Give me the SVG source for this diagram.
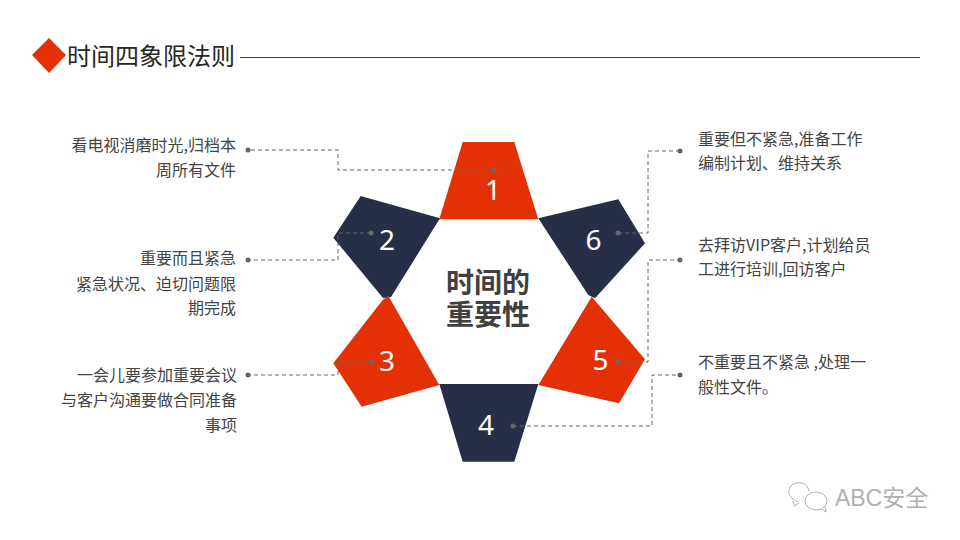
<svg xmlns="http://www.w3.org/2000/svg" width="960" height="540" viewBox="0 0 960 540">
<style>
.t{font-family:"Noto Sans CJK SC","Liberation Sans",sans-serif;font-size:16px;fill:#444}
.e{text-anchor:end}
.n{font-family:"Noto Sans","Liberation Sans",sans-serif;font-size:28px;fill:#fff;text-anchor:middle}
.c{font-family:"Noto Sans CJK SC",sans-serif;font-size:28px;font-weight:700;fill:#404040;text-anchor:middle}
.r{fill:#e33005}
.d{fill:#272e48}
.l{fill:none;stroke:#666;stroke-width:1;stroke-dasharray:4 3}
.p{fill:#666}
</style>
<rect width="960" height="540" fill="#fff"/>
<g id="header">
<polygon class="r" points="49,38 66,55 49,73 32,55"/>
<text x="67" y="65" font-family="'Noto Sans CJK SC',sans-serif" font-size="24" fill="#262626">时间四象限法则</text>
<line x1="240" y1="57.500" x2="920" y2="57.500" stroke="#404040" stroke-width="1"/>
</g>
<g id="node1"><polygon class="r" points="462.700,142 514.300,142 538.300,219.300 439.300,219.300"/><text class="n" x="493" y="200">1</text></g>
<g id="node2"><polygon class="d" points="360.700,196 440,218.300 391,297 383,298 333.300,237.700"/><text class="n" x="387" y="250">2</text></g>
<g id="node3"><polygon class="r" points="388.300,295.700 439.300,385 361.700,406.700 333.300,363.300 382.700,300"/><text class="n" x="387" y="371">3</text></g>
<g id="node4"><polygon class="d" points="439.300,384 538.300,384 514.300,461.700 462.700,461.700"/><text class="n" x="486" y="435">4</text></g>
<g id="node5"><polygon class="r" points="591.700,296.700 645,359.300 619,403.300 538.300,385"/><text class="n" x="600.500" y="370">5</text></g>
<g id="node6"><polygon class="d" points="538.300,218.300 618.300,199.300 645,243.300 595,298.300 588.300,295"/><text class="n" x="593.500" y="250">6</text></g>
<g id="center"><text class="c"><tspan x="488" y="293">时间的</tspan><tspan x="488" y="325">重要性</tspan></text></g>
<g id="connectors">
<polyline class="l" points="494,170 338,170 338,150 248,150"/>
<polyline class="l" points="371,233 338,233 338,260 248,260"/>
<polyline class="l" points="371,362 338,362 338,375 248,375"/>
<polyline class="l" points="513,426 652,426 652,375 680,375"/>
<polyline class="l" points="618,362 648,362 648,260 680,260"/>
<polyline class="l" points="618,233 648,233 648,151 680,151"/>
<g class="p">
<circle cx="494" cy="170" r="2.500"/><circle cx="248" cy="150" r="2.500"/>
<circle cx="371" cy="233" r="2.500"/><circle cx="248" cy="260" r="2.500"/>
<circle cx="371" cy="362" r="2.500"/><circle cx="248" cy="375" r="2.500"/>
<circle cx="513" cy="426" r="2.500"/><circle cx="680" cy="375" r="2.500"/>
<circle cx="618" cy="362" r="2.500"/><circle cx="680" cy="260" r="2.500"/>
<circle cx="618" cy="233" r="2.500"/><circle cx="680" cy="151" r="2.500"/>
</g>
</g>
<g id="label1"><text class="t e" x="236" y="151">看电视消磨时光,归档本</text><text class="t e" x="236" y="175.500">周所有文件</text></g>
<g id="label2"><text class="t e" x="236" y="264">重要而且紧急</text><text class="t e" x="236" y="289.500">紧急状况、迫切问题限</text><text class="t e" x="236" y="314">期完成</text></g>
<g id="label3"><text class="t e" x="237" y="381">一会儿要参加重要会议</text><text class="t e" x="237" y="406">与客户沟通要做合同准备</text><text class="t e" x="237" y="431">事项</text></g>
<g id="label6"><text class="t" x="698" y="145">重要但不紧急,准备工作</text><text class="t" x="698" y="169">编制计划、维持关系</text></g>
<g id="label5"><text class="t" x="698" y="251">去拜访VIP客户,计划给员</text><text class="t" x="698" y="275">工进行培训,回访客户</text></g>
<g id="label4"><text class="t" x="698" y="368">不重要且不紧急 ,处理一</text><text class="t" x="698" y="393">般性文件。</text></g>
<g id="watermark" fill="none" stroke="#b0b0b0" stroke-width="1">
<path d="M798 502 C791 499 788 494 789 490 C790 484 797 482 802 483 C806 484 808 487 809 491"/>
<path d="M793 501 l1 5 l5 -3"/>
<ellipse cx="816" cy="501" rx="11" ry="9"/>
<path d="M822 509 l4 3 l-1 -5"/>
<text x="835" y="506" font-family="'Liberation Sans','Noto Sans CJK SC',sans-serif" font-size="23" fill="#b0b0b0" stroke="none">ABC安全</text>
</g>
</svg>
